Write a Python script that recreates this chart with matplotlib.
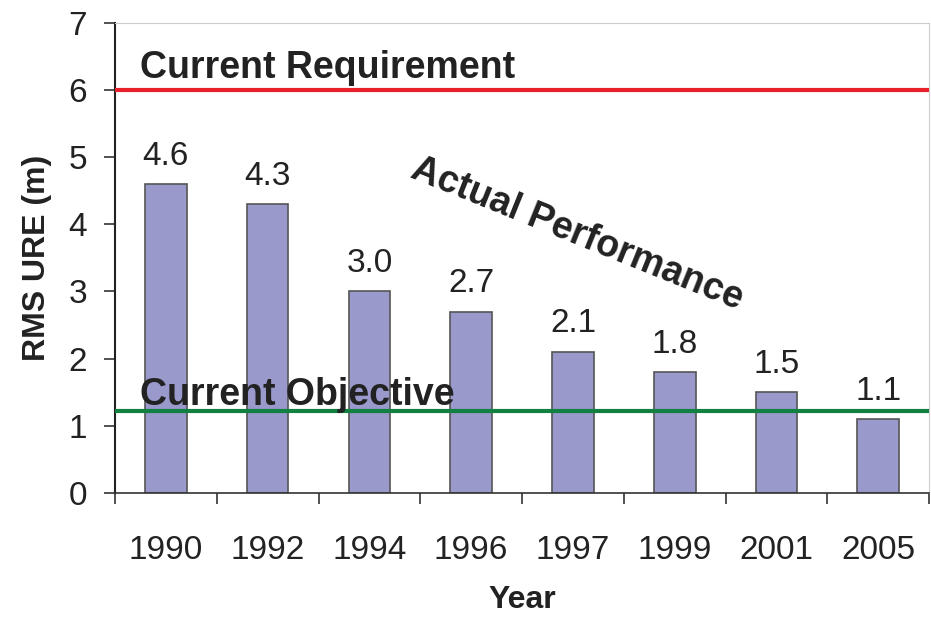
import numpy as np
import matplotlib.pyplot as plt

plt.rcParams['font.family'] = ['Liberation Sans', 'DejaVu Sans']

# data
years = ['1990', '1992', '1994', '1996', '1997', '1999', '2001', '2005']
rms_ure = [4.6, 4.3, 3.0, 2.7, 2.1, 1.8, 1.5, 1.1]
requirement = 6.0
objective = 1.22

fig = plt.figure(figsize=(9.31, 6.17), dpi=100)
ax = fig.add_axes([0.1235, 0.201, 0.8745, 0.762])

x = np.arange(len(years))
bars = ax.bar(x, rms_ure, width=0.41, color='#9999cc', edgecolor='#555555', linewidth=1.2, zorder=2)

# value labels above each bar
for xi, v in zip(x, rms_ure):
    ax.annotate(f'{v:.1f}', (xi, v), xytext=(0, 14), textcoords='offset points',
                ha='center', va='baseline', fontsize=24, color='#222222')

# reference lines
ax.axhline(requirement, color='#e8202a', linewidth=3, zorder=3)
ax.axhline(objective, color='#118040', linewidth=3, zorder=3)

ax.text(-0.255, 6.18, 'Current Requirement', fontsize=27, fontweight='bold',
        color='#222222', ha='left', va='baseline', zorder=4)
ax.text(-0.255, 1.31, 'Current Objective', fontsize=27, fontweight='bold',
        color='#222222', ha='left', va='baseline', zorder=4)
ax.text(4.04, 3.85, 'Actual Performance', fontsize=27, fontweight='bold',
        color='#222222', ha='center', va='center', rotation=-22,
        rotation_mode='anchor', zorder=4)

ax.set_xlim(-0.5, len(years) - 0.5)
ax.set_ylim(0, 7)
ax.set_yticks(range(0, 8))

# category labels centred, tick marks between categories
ax.set_xticks(x)
ax.set_xticklabels(years)
ax.set_xticks(np.arange(-0.5, len(years)), minor=True)
ax.tick_params(axis='x', which='major', length=0, pad=30, labelsize=24, labelcolor='#222222')
ax.tick_params(axis='x', which='minor', length=8, width=1.2, color='#333333', direction='out')
ax.tick_params(axis='y', length=8, width=1.2, color='#333333', direction='out',
               pad=12, labelsize=24, labelcolor='#222222')

ax.set_xlabel('Year', fontsize=23, fontweight='bold', color='#222222', labelpad=14)
ax.set_ylabel('RMS URE (m)', fontsize=23, fontweight='bold', color='#222222', labelpad=12)

ax.spines['left'].set_color('#222222')
ax.spines['bottom'].set_color('#333333')
ax.spines['left'].set_linewidth(1.5)
ax.spines['bottom'].set_linewidth(1.2)
ax.spines['top'].set_color('#cccccc')
ax.spines['right'].set_color('#cccccc')

fig.savefig('out.png', dpi=100)
